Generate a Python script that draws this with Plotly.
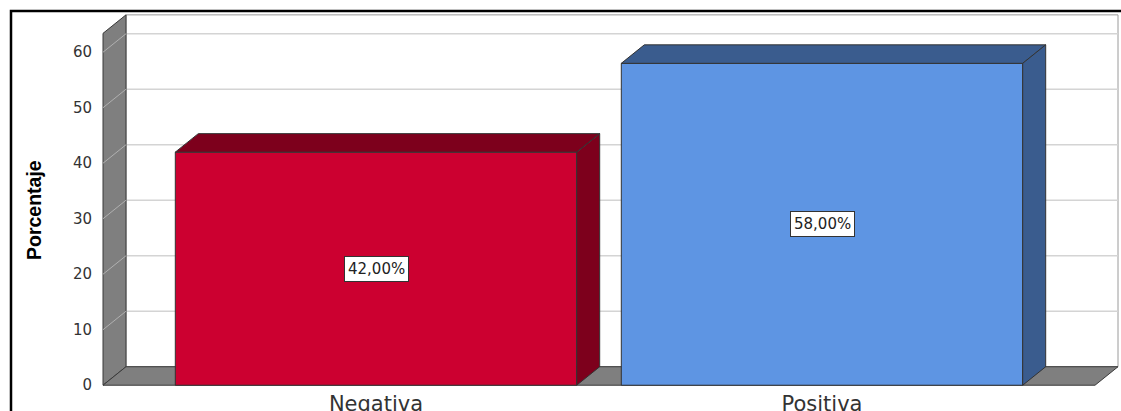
import plotly.graph_objects as go

# ---- data ----
categories = ["Negativa", "Positiva"]
percentages = [42.0, 58.0]
y_ticks = [0, 10, 20, 30, 40, 50, 60]
axis_title = "Porcentaje"

# ---- style ----
front_colors = ["#CC0030", "#5E95E3"]
dark_colors = ["#7D001C", "#3A5C8E"]
edge = "#333333"
wall_gray = "#7F7F7F"

W, H = 1121, 411
ML, MR, MT, MB = 101, 0, 0, 23
PLOT_W = W - ML - MR
PLOT_H = H - MT - MB
PX_PER_CAT = 446.0
PX_PER_UNIT = 5.55
CENTER0_PX = 376.0

XR = [(ML - CENTER0_PX) / PX_PER_CAT, (W - MR - CENTER0_PX) / PX_PER_CAT]
YR = [-0.5, -0.5 + PLOT_H / PX_PER_UNIT]

BAR_W = 0.9
DX = 23 / PX_PER_CAT
DY = 18.5 / PX_PER_UNIT
X0 = (103 - CENTER0_PX) / PX_PER_CAT
X1 = (1095 - CENTER0_PX) / PX_PER_CAT
WALL_TOP = 63.4

xs = list(range(len(categories)))

fig = go.Figure()

# front faces
fig.add_trace(go.Bar(
    x=xs, y=percentages, width=BAR_W,
    marker=dict(color=front_colors, line=dict(color=edge, width=1)),
    hoverinfo="skip",
))

# top and side faces
for i, v in enumerate(percentages):
    l = xs[i] - BAR_W / 2
    r = xs[i] + BAR_W / 2
    fig.add_trace(go.Scatter(
        x=[l, r, r + DX, l + DX, l], y=[v, v, v + DY, v + DY, v],
        mode="lines", fill="toself", fillcolor=dark_colors[i],
        line=dict(color=edge, width=1), hoverinfo="skip"))
    fig.add_trace(go.Scatter(
        x=[r, r + DX, r + DX, r, r], y=[0, DY, v + DY, v, 0],
        mode="lines", fill="toself", fillcolor=dark_colors[i],
        line=dict(color=edge, width=1), hoverinfo="skip"))

shapes = []
# back wall
shapes.append(dict(type="rect", xref="x", yref="y", layer="below",
                   x0=X0 + DX, x1=X1 + DX, y0=DY, y1=WALL_TOP + DY,
                   fillcolor="white", line=dict(color="#9a9a9a", width=1)))
# back wall gridlines
for t in y_ticks[1:]:
    shapes.append(dict(type="line", xref="x", yref="y", layer="below",
                       x0=X0 + DX, x1=X1 + DX, y0=t + DY, y1=t + DY,
                       line=dict(color="#d4d4d4", width=1.5)))
# left wall
shapes.append(dict(type="path", xref="x", yref="y", layer="below",
                   path=f"M {X0},0 L {X0+DX},{DY} L {X0+DX},{WALL_TOP+DY} L {X0},{WALL_TOP} Z",
                   fillcolor=wall_gray, line=dict(color="#3a3a3a", width=1)))
for t in y_ticks[1:]:
    shapes.append(dict(type="line", xref="x", yref="y", layer="below",
                       x0=X0, x1=X0 + DX, y0=t, y1=t + DY,
                       line=dict(color="#b0b0b0", width=1)))
# floor
shapes.append(dict(type="path", xref="x", yref="y", layer="below",
                   path=f"M {X0},0 L {X1},0 L {X1+DX},{DY} L {X0+DX},{DY} Z",
                   fillcolor=wall_gray, line=dict(color="#3a3a3a", width=1)))
# outer frame
shapes.append(dict(type="rect", xref="paper", yref="paper", layer="above",
                   x0=(11 - ML) / PLOT_W, x1=1.3,
                   y0=-0.5, y1=(PLOT_H + MT - 11) / PLOT_H,
                   line=dict(color="black", width=2.5), fillcolor="rgba(0,0,0,0)"))

annotations = []
for i, v in enumerate(percentages):
    annotations.append(dict(
        x=xs[i], y=v / 2, xref="x", yref="y", showarrow=False,
        text=f"{v:.2f}".replace(".", ",") + "%",
        bgcolor="white", bordercolor=edge, borderwidth=1, borderpad=3,
        font=dict(family="DejaVu Sans", size=15, color="#222")))
annotations.append(dict(
    x=(34 - ML) / PLOT_W, y=(PLOT_H + MT - 210) / PLOT_H, xref="paper", yref="paper",
    xanchor="center", yanchor="middle",
    showarrow=False, textangle=-90, text=f"<b>{axis_title}</b>",
    font=dict(family="Liberation Sans, Arial", size=19.5, color="black")))

fig.update_layout(
    width=W, height=H,
    margin=dict(l=ML, r=MR, t=MT, b=MB, pad=0, autoexpand=False),
    paper_bgcolor="white", plot_bgcolor="white",
    showlegend=False,
    shapes=shapes, annotations=annotations,
    xaxis=dict(range=XR, tickvals=xs, ticktext=categories, showgrid=False,
               zeroline=False, showline=False, ticks="", fixedrange=True,
               automargin=False,
               tickfont=dict(family="DejaVu Sans", size=21, color="#333"),
               ticklabelstandoff=1),
    yaxis=dict(range=YR, tickvals=y_ticks, showgrid=False, zeroline=False,
               showline=False, ticks="", fixedrange=True, automargin=False,
               tickfont=dict(family="DejaVu Sans", size=15, color="#333"),
               ticklabelstandoff=8),
)

fig.write_html("out.html", config={"displayModeBar": False},
               post_script="document.body.style.margin='0';document.body.style.overflow='hidden';")
